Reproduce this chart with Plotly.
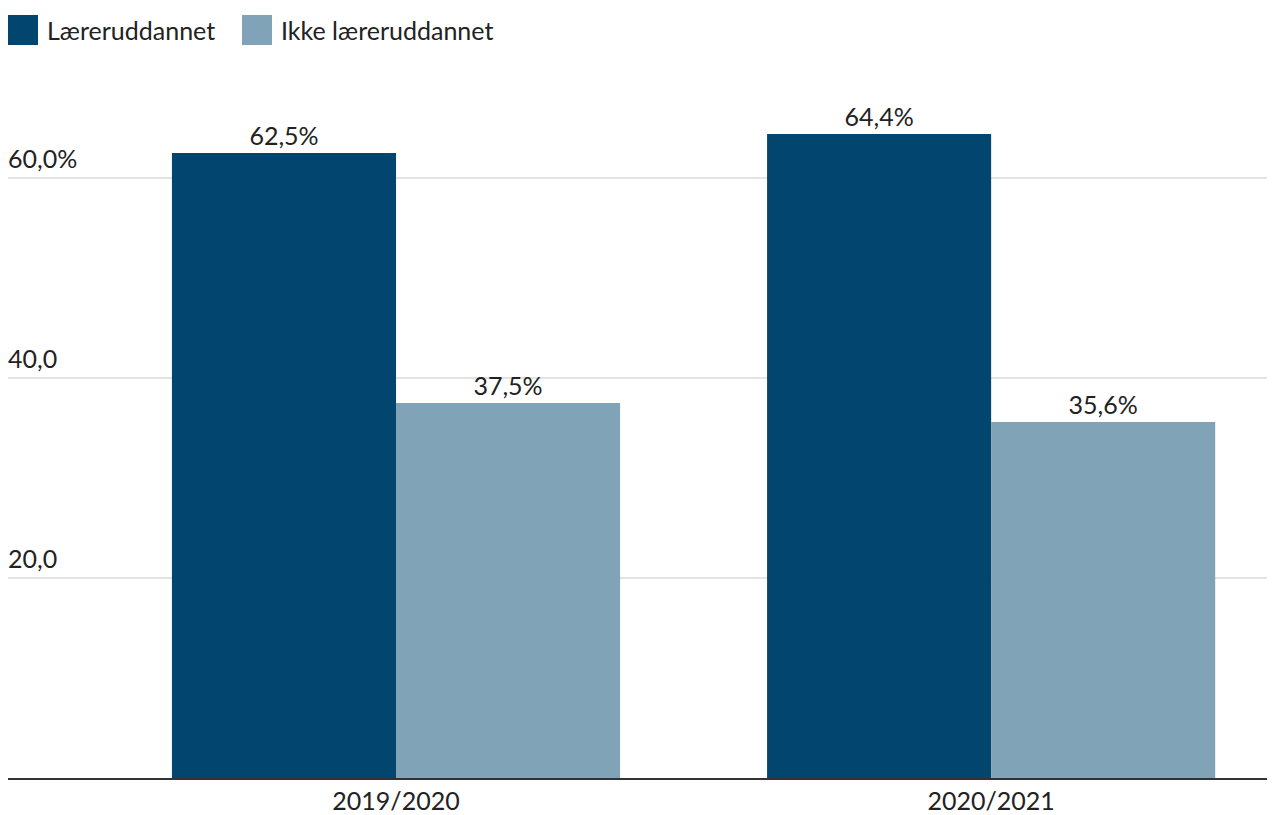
import plotly.graph_objects as go

categories = ["2019/2020", "2020/2021"]
series_names = ["Læreruddannet", "Ikke læreruddannet"]
laereruddannet = [62.5, 64.4]
ikke_laereruddannet = [37.5, 35.6]
y_ticks = [20, 40, 60]
y_tick_labels = ["20,0", "40,0", "60,0%"]
colors = ["#02466F", "#80A3B8"]

FONT = "Lato"
FS = 25
TXT = "#222222"
FNT = dict(family=FONT, size=FS, color=TXT, weight=400)

def fmt(v):
    return f"{v:.1f}".replace(".", ",") + "%"

fig = go.Figure()
for name, vals, col in zip(series_names, [laereruddannet, ikke_laereruddannet], colors):
    fig.add_trace(go.Bar(
        x=categories, y=vals, name=name, marker=dict(color=col, line=dict(width=0)),
        text=[fmt(v) for v in vals], textposition="outside",
        textfont=FNT, cliponaxis=False,
        showlegend=False,
    ))

annotations = []
for v, lab in zip(y_ticks, y_tick_labels):
    annotations.append(dict(x=0, xref="paper", y=v, yref="y", text=lab, showarrow=False,
                            xanchor="left", yanchor="bottom", yshift=3, xshift=-2,
                            font=FNT))

# custom legend (page pixel positions converted to paper fractions)
PW, PH, PL, PB = 1267, 700, 8, 778
shapes = []
legend_x = [8, 242]
label_x = [45, 279]
for i, (name, col) in enumerate(zip(series_names, colors)):
    shapes.append(dict(type="rect", xref="paper", yref="paper",
                       x0=(legend_x[i] - PL) / PW, x1=(legend_x[i] + 30 - PL) / PW,
                       y0=(PB - 45) / PH, y1=(PB - 15) / PH,
                       fillcolor=col, line=dict(width=0)))
    annotations.append(dict(x=(label_x[i] - PL) / PW, xref="paper", y=(PB - 30) / PH, yref="paper",
                            text=name, showarrow=False, xanchor="left", yanchor="middle",
                            font=FNT))

fig.update_layout(
    width=1267, height=807,
    margin=dict(l=0, r=0, t=70, b=29, pad=0),
    paper_bgcolor="white", plot_bgcolor="white",
    barmode="group", bargap=0.247, bargroupgap=0,
    font=FNT,
    xaxis=dict(range=[-0.652, 1.477], showgrid=False, showline=True, linecolor="#333333",
               linewidth=2, ticks="", tickfont=FNT, fixedrange=True),
    yaxis=dict(range=[0, 70], tickvals=y_ticks, showticklabels=False, showgrid=True,
               gridcolor="#E3E3E3", gridwidth=2, zeroline=False, showline=False, fixedrange=True),
    annotations=annotations, shapes=shapes,
)

fig.write_html("out.html", config={"displayModeBar": False})
